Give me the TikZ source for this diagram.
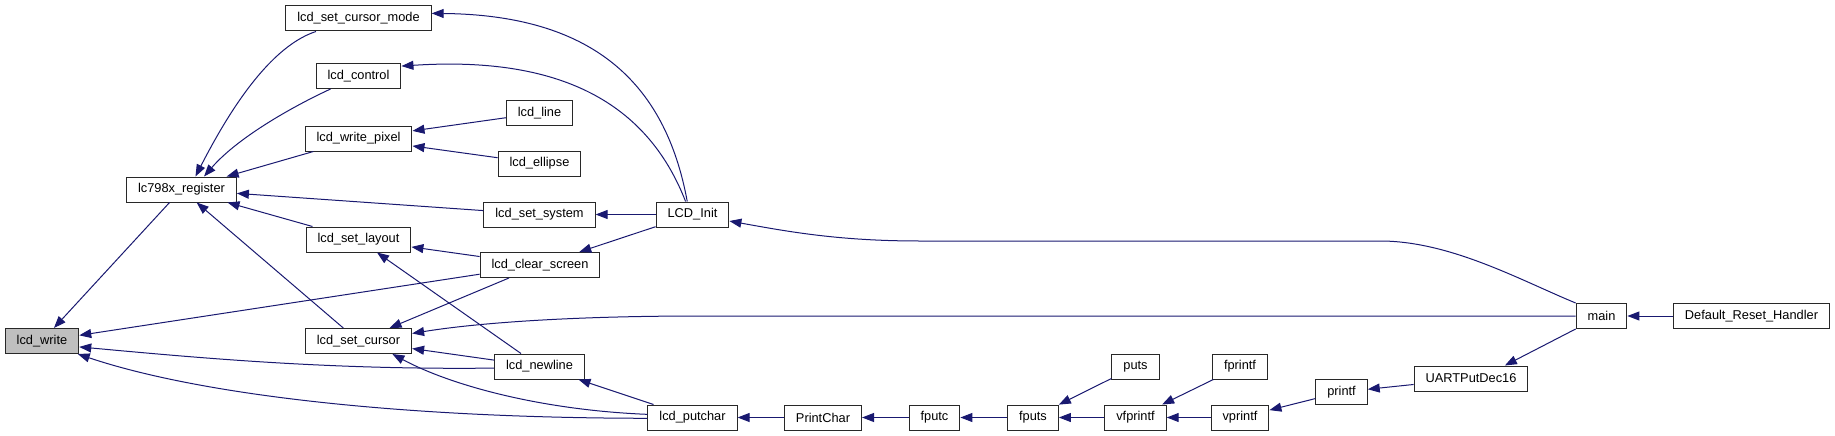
\documentclass[tikz,border=0pt]{standalone}
\usepackage{fontspec}
\setmainfont{Liberation Sans}
\usetikzlibrary{arrows.meta}

\definecolor{EdgeBlue}{RGB}{25,25,112}
\definecolor{NodeGrey}{RGB}{191,191,191}
\definecolor{BorderGrey}{RGB}{40,40,40}

\begin{document}
\begin{tikzpicture}[x=1pt, y=-1pt,
    fn/.style={draw=BorderGrey, line width=1pt, fill=white, minimum height=25pt, inner xsep=11.5pt, inner ysep=0pt, font=\fontsize{12.8}{15}\selectfont},
    call/.style={EdgeBlue, line width=1pt, -{Triangle[length=12pt, width=9pt]}}]
    \useasboundingbox (0,0) rectangle (1835,436);

    % Function under study
    \node[fn, fill=NodeGrey] (write) at (42,341) {lcd\_write};
    \node[fn] (reg) at (181.5,189.5) {lc798x\_register};

    % Direct callers of the register access
    \node[fn] (cmode) at (358.5,18.5) {lcd\_set\_cursor\_mode};
    \node[fn] (ctrl) at (358.5,76) {lcd\_control};
    \node[fn] (pixel) at (358.5,138.5) {lcd\_write\_pixel};
    \node[fn] (layout) at (358.5,239.5) {lcd\_set\_layout};
    \node[fn] (setcur) at (358.5,341) {lcd\_set\_cursor};

    % Next column
    \node[fn] (lline) at (539.5,113) {lcd\_line};
    \node[fn] (lellipse) at (539.5,163.5) {lcd\_ellipse};
    \node[fn] (system) at (539.5,214.5) {lcd\_set\_system};
    \node[fn] (clear) at (540,265) {lcd\_clear\_screen};
    \node[fn] (newline) at (539.5,366.5) {lcd\_newline};
    \node[fn] (init) at (692.5,214.5) {LCD\_Init};
    \node[fn] (putc) at (692.5,417.5) {lcd\_putchar};

    % stdio chain
    \node[fn] (printchar) at (823,417.5) {PrintChar};
    \node[fn] (fputc) at (934.5,417.5) {fputc};
    \node[fn] (fputs) at (1033,417.5) {fputs};
    \node[fn] (puts) at (1135.5,366.5) {puts};
    \node[fn] (vfprintf) at (1135.5,417.5) {vfprintf};
    \node[fn] (fprintf) at (1240,366.5) {fprintf};
    \node[fn] (vprintf) at (1240,417.5) {vprintf};
    \node[fn] (printf) at (1341.5,392) {printf};
    \node[fn] (uart) at (1471,378.5) {UARTPutDec16};
    \node[fn] (main) at (1601.5,316) {main};
    \node[fn] (reset) at (1751.5,316) {Default\_Reset\_Handler};

    % Callers of lcd_write
    \draw[call] (reg) -- (write);
    \draw[call] (clear) -- (write);
    \draw[call] (newline.182) .. controls (330,370) and (200,358) .. (write.-9);
    \draw[call] (putc.181) .. controls (400,418) and (200,395) .. (write.-20);

    % Callers of lc798x_register
    \draw[call] (cmode.197) .. controls (265,48) and (222,125) .. (reg.43);
    \draw[call] (ctrl.205) .. controls (300,103) and (240,135) .. (reg.30);
    \draw[call] (pixel) -- (reg);
    \draw[call] (system) -- (reg);
    \draw[call] (layout) -- (reg);
    \draw[call] (setcur) -- (reg);

    % Second column
    \draw[call] (lline) -- (pixel);
    \draw[call] (lellipse) -- (pixel);
    \draw[call] (clear) -- (layout);
    \draw[call] (newline) -- (layout);
    \draw[call] (clear) -- (setcur);
    \draw[call] (newline) -- (setcur);
    \draw[call] (putc.176) .. controls (540,410) and (450,385) .. (setcur.-21);
    \draw[call] (putc) -- (newline);

    % LCD_Init
    \draw[call] (init.112) .. controls (665,80) and (590,15) .. (cmode.4);
    \draw[call] (init.118) .. controls (650,110) and (570,55) .. (ctrl.13);
    \draw[call] (init) -- (system);
    \draw[call] (init) -- (clear);

    % main
    \draw[call] (main.north west) .. controls (1520,280) and (1450,241) .. (1380,241) -- (920,241) .. controls (840,241) and (790,232) .. (init.-10);
    \draw[call] (main.west) -- (700,316) .. controls (560,316) and (470,324) .. (setcur.8);
    \draw[call] (reset) -- (main);
    \draw[call] (main.south west) -- (uart.21);

    % Output chain
    \draw[call] (printchar) -- (putc);
    \draw[call] (fputc) -- (printchar);
    \draw[call] (fputs) -- (fputc);
    \draw[call] (vfprintf) -- (fputs);
    \draw[call] (puts) -- (fputs);
    \draw[call] (vprintf) -- (vfprintf);
    \draw[call] (fprintf) -- (vfprintf);
    \draw[call] (printf) -- (vprintf);
    \draw[call] (uart) -- (printf);
\end{tikzpicture}
\end{document}
